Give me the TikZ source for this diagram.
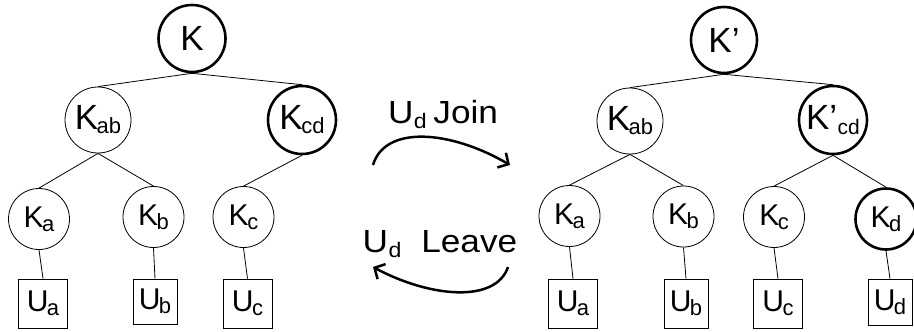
\documentclass[tikz,border=0pt]{standalone}
\usepackage{fontspec}
\setmainfont{Liberation Sans}
\usetikzlibrary{arrows.meta}
% lowered, smaller index letters tucked under the main letter
\newcommand{\idx}[1]{\kern-1.5pt\raisebox{-4pt}{\fontsize{22}{22}\selectfont #1}}
\newcommand{\lidx}[1]{\kern0.5pt\raisebox{-5pt}{\fontsize{21}{21}\selectfont #1}}
% slightly widened caption text
\newcommand{\wide}[1]{\scalebox{1.1}[1]{#1}}

\begin{document}
\begin{tikzpicture}[x=1pt,y=-1pt,
  key/.style={circle,draw,line width=0.8pt,inner sep=0pt,minimum size=61pt,
    font=\fontsize{30}{30}\selectfont},
  upkey/.style={key,minimum size=66pt,font=\fontsize{35}{35}\selectfont},
  changed/.style={line width=2.6pt},
  user/.style={draw,line width=0.8pt,inner sep=0pt,minimum width=49pt,minimum height=49pt,
    font=\fontsize{30}{30}\selectfont},
  narrow/.style={minimum width=44pt},
  link/.style={line width=0.8pt},
  move/.style={line width=2.5pt,-{Straight Barb[length=8pt,width=17pt,line width=2.5pt]}},
  lbl/.style={inner sep=0pt,font=\fontsize{32}{32}\selectfont}]
\useasboundingbox (0,0) rectangle (914,332);

% ---- tree before the join ----
\node[upkey,changed,minimum size=67pt] (K)   at (192,38.5) {K};
\node[upkey]                           (Kab) at (98,120)   {K\idx{ab}};
\node[upkey,changed,minimum size=68pt] (Kcd) at (302,120)  {K\idx{cd}};
\node[key]                             (Ka)  at (39,219)   {K\idx{a}};
\node[key]                             (Kb)  at (153.5,217) {K\idx{b}};
\node[key]                             (Kc)  at (243.5,217) {K\idx{c}};
\node[user]                            (Ua)  at (43,303.5)  {U\idx{a}};
\node[user,narrow,minimum height=45pt] (Ub)  at (155,301.5) {U\idx{b}};
\node[user]                            (Uc)  at (247.5,303.5) {U\idx{c}};

\draw[link] (K.south) -- (Kab.north);
\draw[link] (K.south) -- (Kcd.north);
\draw[link] (Kab.south) -- (Ka.north);
\draw[link] (Kab.south) -- (Kb.north);
\draw[link] (Kcd.south) -- (Kc.north);
\draw[link] (Ka.south) -- (Ua.north);
\draw[link] (Kb.south) -- (Ub.north);
\draw[link] (Kc.south) -- (Uc.north);

% ---- tree after the join ----
\node[upkey,changed,minimum size=66pt] (N)    at (724,40)   {K’};
\node[upkey]                           (Nab)  at (630,121)  {K\idx{ab}};
\node[upkey,changed,minimum size=68pt] (Ncd)  at (833,120)  {K’\lidx{cd}};
\node[key]                             (Na)   at (569.5,216) {K\idx{a}};
\node[key]                             (Nb)   at (683.5,216.5) {K\idx{b}};
\node[key]                             (Nc)   at (774,217)  {K\idx{c}};
\node[key,changed]                     (Nd)   at (886,219)  {K\idx{d}};
\node[user]                            (Va)   at (573,303.5) {U\idx{a}};
\node[user,narrow]                     (Vb)   at (686,303.5) {U\idx{b}};
\node[user]                            (Vc)   at (778,303.5) {U\idx{c}};
\node[user,narrow,minimum height=46pt] (Vd)   at (890,302)  {U\idx{d}};

\draw[link] (N.south) -- (Nab.north);
\draw[link] (N.south) -- (Ncd.north);
\draw[link] (Nab.south) -- (Na.north);
\draw[link] (Nab.south) -- (Nb.north);
\draw[link] (Ncd.south) -- (Nc.north);
\draw[link] (Ncd.south) -- (Nd.north);
\draw[link] (Na.south) -- (Va.north);
\draw[link] (Nb.south) -- (Vb.north);
\draw[link] (Nc.south) -- (Vc.north);
\draw[link] (Nd.south) -- (Vd.north);

% ---- transitions ----
\coordinate (j0) at (373,165);
\coordinate (j1) at (510,165);
\coordinate (l0) at (508,267);
\coordinate (l1) at (373,267);
\draw[move] (j0) .. controls (385,125) and (450,130) .. (j1);
\draw[move] (l0) .. controls (496,303) and (431,298) .. (l1);
\node[lbl] (join)  at (443,115) {\wide{U\lidx{d}\hspace{6pt}Join}};
\node[lbl] (leave) at (440,244) {\wide{U\lidx{d}\hspace{18pt}Leave}};
\end{tikzpicture}
\end{document}
